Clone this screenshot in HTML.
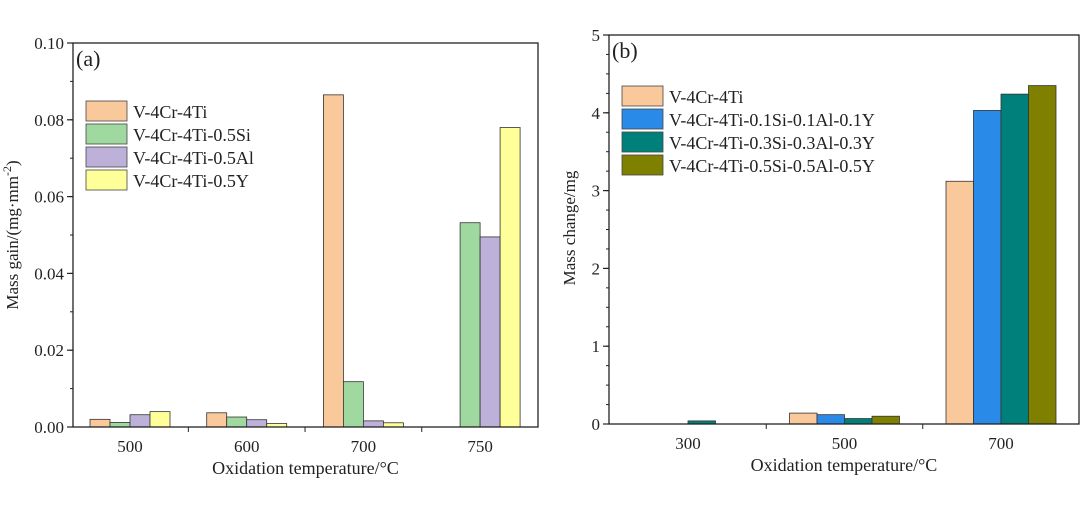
<!DOCTYPE html>
<html><head><meta charset="utf-8"><style>
body{margin:0;background:#fff;width:1080px;height:500px;overflow:hidden}
svg text{font-family:"Liberation Serif",serif;fill:#222}
</style></head><body>
<svg id="c" width="1080" height="500"></svg>
<script>
const catsA=["500","600","700","750"];
const seriesA=["V-4Cr-4Ti","V-4Cr-4Ti-0.5Si","V-4Cr-4Ti-0.5Al","V-4Cr-4Ti-0.5Y"];
const valsA0=[0.002,0.0037,0.0865,0];
const valsA1=[0.0012,0.0026,0.0118,0.0532];
const valsA2=[0.0032,0.0019,0.0016,0.0495];
const valsA3=[0.004,0.0009,0.0011,0.078];
const ticksA=["0.00","0.02","0.04","0.06","0.08","0.10"];
const catsB=["300","500","700"];
const seriesB=["V-4Cr-4Ti","V-4Cr-4Ti-0.1Si-0.1Al-0.1Y","V-4Cr-4Ti-0.3Si-0.3Al-0.3Y","V-4Cr-4Ti-0.5Si-0.5Al-0.5Y"];
const valsB0=[0,0.14,3.12];
const valsB1=[0,0.12,4.03];
const valsB2=[0.04,0.07,4.24];
const valsB3=[0,0.1,4.35];
const ticksB=["0","1","2","3","4","5"];

const svg=document.getElementById('c');const NS='http://www.w3.org/2000/svg';
function el(t,a,p){const e=document.createElementNS(NS,t);for(const k in a)e.setAttribute(k,a[k]);(p||svg).appendChild(e);return e;}
function txt(x,y,s,size,anchor,p,rot){const e=el('text',{x:x,y:y,'font-size':size,'text-anchor':anchor||'middle'},p);if(rot)e.setAttribute('transform','rotate(-90 '+x+' '+y+')');e.textContent=s;return e;}

function panel(cfg){
  const g=el('g',{});
  
  
  const {L,R,T,B,ymax,cats,vals,cols,bw,step,c0}=cfg;
  const ys=v=>B-(v/ymax)*(B-T);
  const xs=i=>c0+i*step;
  vals.forEach((arr,s)=>{arr.forEach((v,i)=>{
    if(v<=0)return;
    const x=xs(i)-2*bw+s*bw;
    const r=el('rect',{x:x,y:ys(v),width:bw,height:B-ys(v),fill:cols[s],stroke:'#333','stroke-width':0.8},g);
    
    
  });});
  const fr=el('rect',{x:L,y:T,width:R-L,height:B-T,fill:'none',stroke:'#222','stroke-width':1.3},g);
  
  
  cfg.ticks.forEach((t,k)=>{const v=k*ymax/(cfg.ticks.length-1);const y=ys(v);
    el('line',{x1:L-6,x2:L,y1:y,y2:y,stroke:'#222','stroke-width':1.2},g);
    const tl=txt(L-9,y+6,t,17,'end',g);
    
    });
  for(let v=cfg.minor;v<ymax;v+=cfg.minor){const y=ys(v);el('line',{x1:L-3,x2:L,y1:y,y2:y,stroke:'#222'},g);}
  cats.forEach((c,i)=>{const l=txt(xs(i),B+25,c,17,'middle',g);
    
    
    if(i>0){const xb=(xs(i)+xs(i-1))/2;el('line',{x1:xb,x2:xb,y1:B,y2:B+5,stroke:'#222'},g);}});
  const xt=txt((L+R)/2,B+47,'Oxidation temperature/°C',18,'middle',g);
  
  
  const yt=txt(cfg.ytx,cfg.yty,'',17,'middle',g,true);
  yt.innerHTML=cfg.ytitle;
  
  
  const pl=txt(L+3,T+23,cfg.label,22,'start',g);
  
  
  cfg.series.forEach((s,k)=>{
    const le=el('g',{},g);
    
    
    const y=cfg.ly+k*23;
    el('rect',{x:cfg.lx,y:y,width:41,height:20,fill:cols[k],stroke:'#444','stroke-width':0.8},le);
    txt(cfg.lx+47,y+17,s,18,'start',le);
  });
}
panel({name:'panel-a',L:73,R:538,T:43,B:427,ymax:0.1,minor:0.01,cats:catsA,vals:[valsA0,valsA1,valsA2,valsA3],
 cols:['#f9c89b','#9fd9a0','#bdb1d9','#ffff99'],bw:20,step:116.7,c0:130,ticks:ticksA,series:seriesA,
 ytx:18,yty:235,ytitle:'Mass gain/(mg·mm<tspan baseline-shift="super" font-size="12">-2</tspan>)',label:'(a)',lx:86,ly:101});
panel({name:'panel-b',L:609,R:1079,T:35,B:424,ymax:5,minor:0.25,cats:catsB,vals:[valsB0,valsB1,valsB2,valsB3],
 cols:['#f9c89b','#2a8ae8','#00807a','#808000'],bw:27.5,step:156.5,c0:688,ticks:ticksB,series:seriesB,
 ytx:575,yty:228,ytitle:'Mass change/mg',label:'(b)',lx:622,ly:86});
</script>
</body></html>
